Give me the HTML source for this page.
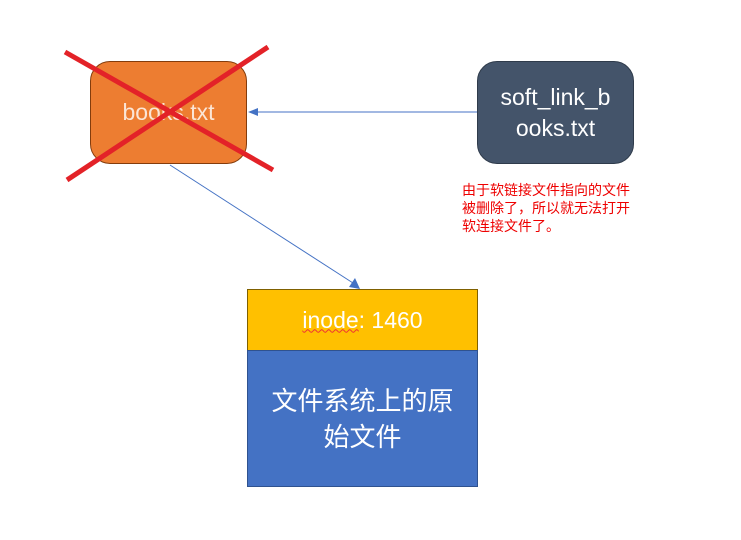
<!DOCTYPE html>
<html><head><style>
body{margin:0;width:741px;height:540px;background:#fff;position:relative;overflow:hidden;font-family:"Liberation Sans","Noto Sans CJK SC",sans-serif}
.b{position:absolute;box-sizing:border-box;color:#fff;display:flex;align-items:center;justify-content:center;text-align:center}
</style></head><body>
<div class="b" style="left:90px;top:61px;width:157px;height:103px;background:#ED7D31;border:1px solid #843C0C;border-radius:20px;font-size:23px;color:#fbe5d6">books.txt</div>
<div class="b" style="left:477px;top:61px;width:157px;height:103px;background:#44546A;border:1px solid #2f3b4b;border-radius:20px;font-size:23px;line-height:31px;padding:0 8px">soft_link_b ooks.txt</div>
<div class="b" style="left:247px;top:289px;width:231px;height:62px;background:#FFC000;border:1px solid #7f6000;font-size:23px"><span style="text-decoration:underline wavy #e33;text-decoration-thickness:1px">inode</span>: 1460</div>
<div class="b" style="left:247px;top:350px;width:231px;height:137px;background:#4472C4;border:1px solid #2f528f;font-size:26px;line-height:36px;padding:0 20px">文件系统上的原始文件</div>
<div style="position:absolute;left:462px;top:181px;font-size:14px;line-height:18px;color:#e00">由于软链接文件指向的文件<br>被删除了，所以就无法打开<br>软连接文件了。</div>
<svg width="741" height="540" style="position:absolute;left:0;top:0">
<line x1="477" y1="112" x2="256" y2="112" stroke="#4472C4" stroke-width="1"/>
<polygon points="248,112 258,108 258,116" fill="#4472C4"/>
<line x1="170" y1="165" x2="353" y2="283" stroke="#4472C4" stroke-width="1"/>
<polygon points="360,289 349,287 355,278" fill="#4472C4"/>
<line x1="65" y1="52" x2="273" y2="170" stroke="#E32228" stroke-width="5"/>
<line x1="268" y1="47" x2="67" y2="180" stroke="#E32228" stroke-width="5"/>
</svg>
</body></html>
